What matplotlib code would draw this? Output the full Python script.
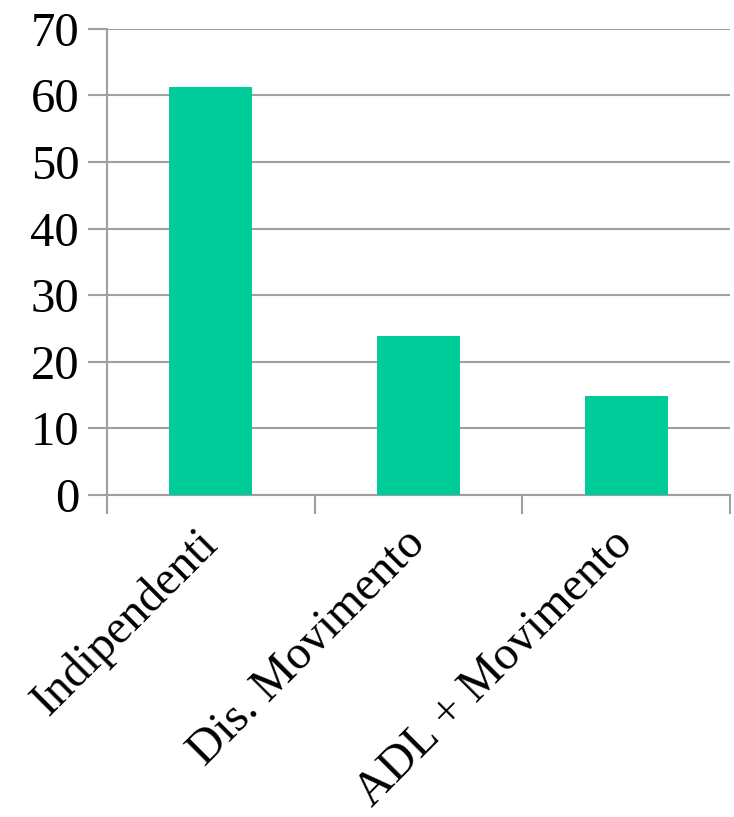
import matplotlib.pyplot as plt

# Data
categories = ['Indipendenti', 'Dis. Movimento', 'ADL + Movimento']
values = [61.3, 23.8, 14.8]
yticks = [0, 10, 20, 30, 40, 50, 60, 70]

plt.rcParams['font.family'] = ['Liberation Serif', 'DejaVu Serif']

fig = plt.figure(figsize=(7.34, 8.17), dpi=100)
ax = fig.add_axes([107 / 734, (817 - 495) / 817, (730 - 107) / 734, (495 - 28.7) / 817])

x = list(range(len(categories)))
ax.bar(x, values, width=0.4, color='#00CC99', zorder=3)

ax.set_xlim(-0.5, len(categories) - 0.5)
ax.set_ylim(0, 70)
ax.set_yticks(yticks)
ax.set_yticklabels([str(t) for t in yticks], fontsize=35)

# category tick marks sit on the boundaries between categories
ax.set_xticks([i - 0.5 for i in range(len(categories) + 1)])
ax.set_xticklabels([])
ax.set_xticks(x, minor=True)
ax.set_xticklabels(categories, minor=True, rotation=45, ha='right', va='center',
                   rotation_mode='anchor', fontsize=34.5)
ax.tick_params(axis='x', which='minor', length=0, pad=30)
ax.tick_params(axis='x', which='major', length=14, width=1.5, color='#a0a0a0')
ax.tick_params(axis='y', length=14, width=1.5, color='#a0a0a0', pad=6)

ax.grid(axis='y', color='#a0a0a0', linewidth=1.5, zorder=0)
for side in ['top', 'right']:
    ax.spines[side].set_visible(False)
for side in ['left', 'bottom']:
    ax.spines[side].set_color('#a0a0a0')
    ax.spines[side].set_linewidth(1.5)

fig.savefig('out.png', dpi=100)
